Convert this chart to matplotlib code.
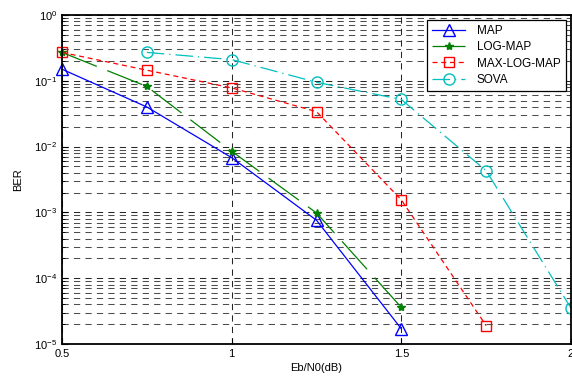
import numpy as np
import matplotlib
matplotlib.use("Agg")
import matplotlib.pyplot as plt
import matplotlib.ticker as mticker

plt.rcParams['font.family'] = ['Liberation Sans', 'DejaVu Sans']
plt.rcParams['mathtext.default'] = 'regular'

# Eb/N0 values (dB) and BER for each decoder
ebn0_map = [0.5, 0.75, 1.0, 1.25, 1.5]
ber_map = [0.15, 0.04, 0.0068, 7.6e-4, 1.7e-5]

ebn0_logmap = [0.5, 0.75, 1.0, 1.25, 1.5]
ber_logmap = [0.27, 0.082, 0.0085, 9.8e-4, 3.6e-5]

ebn0_maxlog = [0.5, 0.75, 1.0, 1.25, 1.5, 1.75]
ber_maxlog = [0.27, 0.145, 0.078, 0.034, 1.55e-3, 1.9e-5]

ebn0_sova = [0.75, 1.0, 1.25, 1.5, 1.75, 2.0]
ber_sova = [0.27, 0.21, 0.095, 0.052, 0.0043, 3.5e-5]

x_ticks = [0.5, 1, 1.5, 2]
x_tick_labels = ['0.5', '1', '1.5', '2']

fig = plt.figure(figsize=(5.72, 3.79), dpi=100)
ax = fig.add_axes([62 / 572, 35 / 379, (571 - 62) / 572, (344 - 15) / 379])

ax.semilogy(ebn0_map, ber_map, color='blue', lw=0.9, marker='^', ms=8,
            mfc='none', mec='blue', label='MAP', clip_on=False)
ax.semilogy(ebn0_logmap, ber_logmap, color='green', lw=0.9, ls=(0, (30, 9)),
            marker='*', ms=6, mec='green', mfc='green', label='LOG-MAP', clip_on=False)
ax.semilogy(ebn0_maxlog, ber_maxlog, color='red', lw=0.9, ls=(0, (4, 3)),
            marker='s', ms=7, mfc='none', mec='red', label='MAX-LOG-MAP', clip_on=False)
ax.semilogy(ebn0_sova, ber_sova, color='#00bfbf', lw=0.9, ls=(0, (14, 4, 1, 4)),
            marker='o', ms=8, mfc='none', mec='#00bfbf', label='SOVA', clip_on=False)

ax.set_xlim(0.5, 2)
ax.set_ylim(1e-5, 1)
ax.set_xticks(x_ticks)
ax.set_xticklabels(x_tick_labels)
ax.yaxis.set_major_locator(mticker.LogLocator(base=10, numticks=10))
ax.yaxis.set_minor_locator(mticker.LogLocator(base=10, subs=np.arange(2, 10), numticks=10))
ax.yaxis.set_minor_formatter(mticker.NullFormatter())

ax.tick_params(direction='in', labelsize=8, length=4, width=0.8)
ax.tick_params(which='minor', direction='in', length=2, width=0.6)
ax.grid(True, which='major', axis='both', color='0.15', ls=(0, (6, 5)), lw=0.75)
ax.grid(True, which='minor', axis='y', color='0.3', ls=(0, (6, 5)), lw=0.75)

for sp in ax.spines.values():
    sp.set_linewidth(1.3)

ax.set_xlabel('Eb/N0(dB)', fontsize=8, labelpad=3)
ax.set_ylabel('BER', fontsize=8, labelpad=8)

leg = ax.legend(loc='upper right', bbox_to_anchor=(0.99, 0.985), borderaxespad=0,
                fontsize=8.5, fancybox=False, framealpha=1, edgecolor='black',
                handlelength=2.8, handletextpad=1.0, borderpad=0.45,
                labelspacing=0.35)
leg.get_frame().set_linewidth(0.9)

fig.savefig('out.png', dpi=100)
